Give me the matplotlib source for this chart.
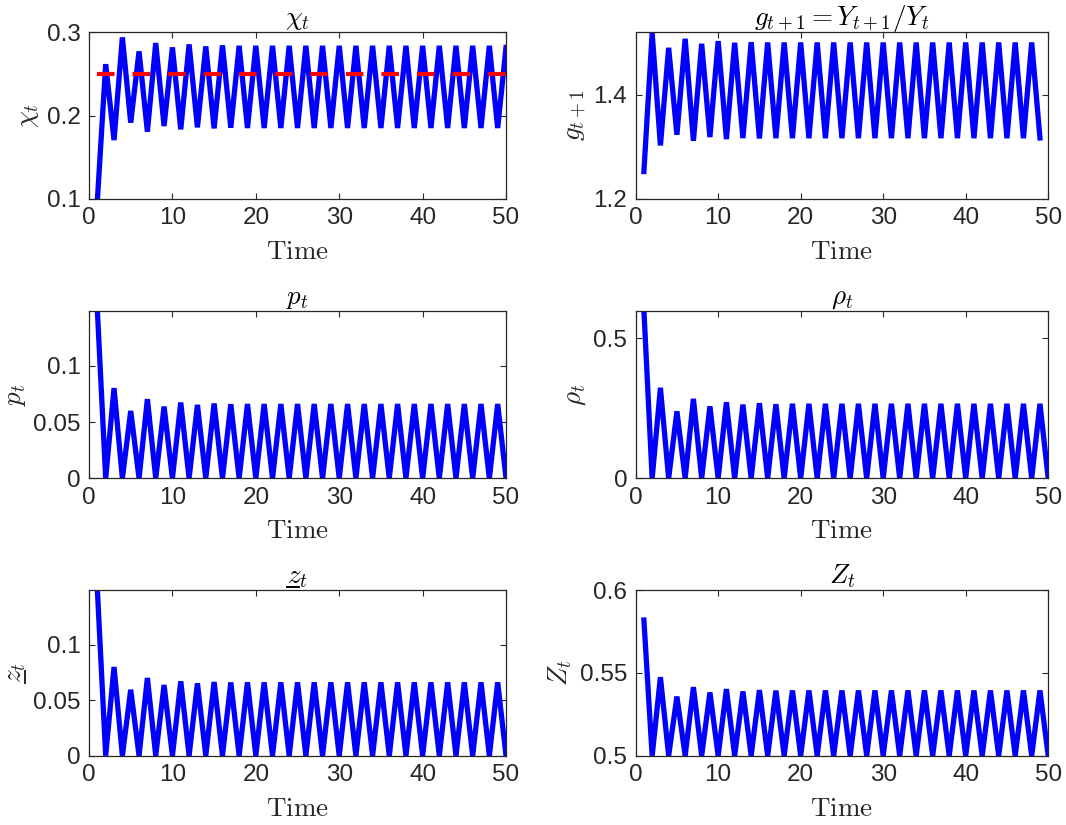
import numpy as np
import matplotlib
matplotlib.use('Agg')
import matplotlib.pyplot as plt
from matplotlib.lines import Line2D
from matplotlib.ticker import FormatStrFormatter

plt.rcParams['font.family'] = ['Liberation Sans', 'DejaVu Sans']
plt.rcParams['mathtext.fontset'] = 'cm'
plt.rcParams['lines.scale_dashes'] = False

# values, t = 1..50
chi = [0.098, 0.2615, 0.1705, 0.2936, 0.1914, 0.2768, 0.1806, 0.2868, 0.1874, 0.2816,
       0.1834, 0.2852, 0.1858, 0.2828, 0.1846, 0.284, 0.1853, 0.2835, 0.185, 0.2835,
       0.185, 0.2835, 0.185, 0.2835, 0.185, 0.2835, 0.185, 0.2835, 0.185, 0.2835,
       0.185, 0.2835, 0.185, 0.2835, 0.185, 0.2835, 0.185, 0.2835, 0.185, 0.2835,
       0.185, 0.2835, 0.185, 0.2835, 0.185, 0.2835, 0.185, 0.2835, 0.185, 0.2815]
chi_ss = 0.25

# t = 1..49
g = [1.2526, 1.518, 1.3026, 1.4897, 1.3231, 1.507, 1.3115, 1.4974, 1.3186, 1.5026,
     1.3147, 1.4994, 1.3167, 1.5006, 1.316, 1.500, 1.3165, 1.500, 1.3165, 1.500,
     1.3165, 1.500, 1.3165, 1.500, 1.3165, 1.500, 1.3165, 1.500, 1.3165, 1.500,
     1.3165, 1.500, 1.3165, 1.500, 1.3165, 1.500, 1.3165, 1.500, 1.3165, 1.500,
     1.3165, 1.500, 1.3165, 1.500, 1.3165, 1.500, 1.3165, 1.500, 1.317]

p = [0.1495, 0, 0.0802, 0, 0.0599, 0, 0.0704, 0, 0.0638, 0,
     0.0674, 0, 0.0653, 0, 0.0665, 0, 0.0659, 0, 0.0661, 0,
     0.0661, 0, 0.0661, 0, 0.0661, 0, 0.0661, 0, 0.0661, 0,
     0.0661, 0, 0.0661, 0, 0.0661, 0, 0.0661, 0, 0.0661, 0,
     0.0661, 0, 0.0661, 0, 0.0661, 0, 0.0661, 0, 0.0661, 0]

rho = [0.60, 0, 0.323, 0, 0.239, 0, 0.2835, 0, 0.257, 0,
       0.2715, 0, 0.263, 0, 0.268, 0, 0.2645, 0, 0.266, 0,
       0.266, 0, 0.266, 0, 0.266, 0, 0.266, 0, 0.266, 0,
       0.266, 0, 0.266, 0, 0.266, 0, 0.266, 0, 0.266, 0,
       0.266, 0, 0.266, 0, 0.266, 0, 0.266, 0, 0.266, 0]

z_low = [0.1495, 0, 0.0798, 0, 0.0593, 0, 0.0699, 0, 0.0636, 0,
         0.0669, 0, 0.0651, 0, 0.0663, 0, 0.0659, 0, 0.066, 0,
         0.066, 0, 0.066, 0, 0.066, 0, 0.066, 0, 0.066, 0,
         0.066, 0, 0.066, 0, 0.066, 0, 0.066, 0, 0.066, 0,
         0.066, 0, 0.066, 0, 0.066, 0, 0.066, 0, 0.066, 0]

Z = [0.5819, 0.5, 0.5474, 0.5, 0.5357, 0.5, 0.5414, 0.5, 0.5382, 0.5,
     0.5402, 0.5, 0.5388, 0.5, 0.5396, 0.5, 0.5393, 0.5, 0.5394, 0.5,
     0.5394, 0.5, 0.5394, 0.5, 0.5394, 0.5, 0.5394, 0.5, 0.5394, 0.5,
     0.5394, 0.5, 0.5394, 0.5, 0.5394, 0.5, 0.5394, 0.5, 0.5394, 0.5,
     0.5394, 0.5, 0.5394, 0.5, 0.5394, 0.5, 0.5394, 0.5, 0.5394, 0.5]

panels = [
    (chi, r'$\chi_t$', r'$\chi_t$', (0.1, 0.3), [0.1, 0.2, 0.3]),
    (g, r'$g_{t+1} = Y_{t+1}/Y_t$', r'$g_{t+1}$', (1.2, 1.52), [1.2, 1.4]),
    (p, r'$p_t$', r'$p_t$', (0, 0.149), [0, 0.05, 0.1]),
    (rho, r'$\rho_t$', r'$\rho_t$', (0, 0.598), [0, 0.5]),
    (z_low, r'$z_t$', r'$z_t$', (0, 0.149), [0, 0.05, 0.1]),
    (Z, r'$Z_t$', r'$Z_t$', (0.5, 0.6), [0.5, 0.55, 0.6]),
]

# axes rectangles in figure fractions
lefts = [0.0835, 0.5963]
widths = [0.3912, 0.387]
bottoms = [0.7588, 0.4202, 0.084]
heights = [0.2024, 0.2032, 0.2008]

dark = '#262626'
W, H = 1066, 825
fig = plt.figure(figsize=(W / 100, H / 100), dpi=100)
axes = []

for i, (vals, title, ylab, ylim, yt) in enumerate(panels):
    r, c = divmod(i, 2)
    ax = fig.add_axes([lefts[c], bottoms[r], widths[c], heights[r]])
    t = np.arange(1, len(vals) + 1)
    ax.plot(t, vals, color='#0000ff', lw=3.8, solid_joinstyle='miter')
    if i == 0:
        ax.plot(t, np.full(len(t), chi_ss), color='#ff0000', lw=3,
                dashes=(12.6, 13), dash_capstyle='butt')
    ax.set_xlim(0, 50)
    ax.set_ylim(*ylim)
    ax.set_xticks([0, 10, 20, 30, 40, 50])
    ax.set_yticks(yt)
    ax.yaxis.set_major_formatter(FormatStrFormatter('%g'))
    ax.tick_params(direction='in', top=True, right=True, length=4, width=0.8,
                   labelsize=17.5, colors=dark, labelcolor=dark, pad=6)
    for s in ax.spines.values():
        s.set_color(dark)
        s.set_linewidth(0.9)
    ax.set_title(title, fontsize=19.5, pad=5, color='black')
    ax.set_xlabel(r'$\mathrm{Time}$', fontsize=19.5, labelpad=7, color=dark)
    ax.set_ylabel(ylab, fontsize=19.5, labelpad=4, color=dark)
    axes.append(ax)

# mathtext has no \underline, so draw the bar under z by hand
fig.canvas.draw()
rend = fig.canvas.get_renderer()
ax = axes[4]
bb = ax.title.get_window_extent(rend)
x0, x1 = bb.x0, bb.x0 + 0.58 * bb.width
yb = bb.y0 + 0.12 * bb.height
fig.add_artist(Line2D([x0 / W, x1 / W], [yb / H, yb / H], color='black', lw=1.4,
                      transform=fig.transFigure))
bb = ax.yaxis.label.get_window_extent(rend)
y0, y1 = bb.y0, bb.y0 + 0.58 * bb.height
xb = bb.x1 - 0.12 * bb.width
fig.add_artist(Line2D([xb / W, xb / W], [y0 / H, y1 / H], color=dark, lw=1.4,
                      transform=fig.transFigure))

fig.savefig('out.png', dpi=100)
